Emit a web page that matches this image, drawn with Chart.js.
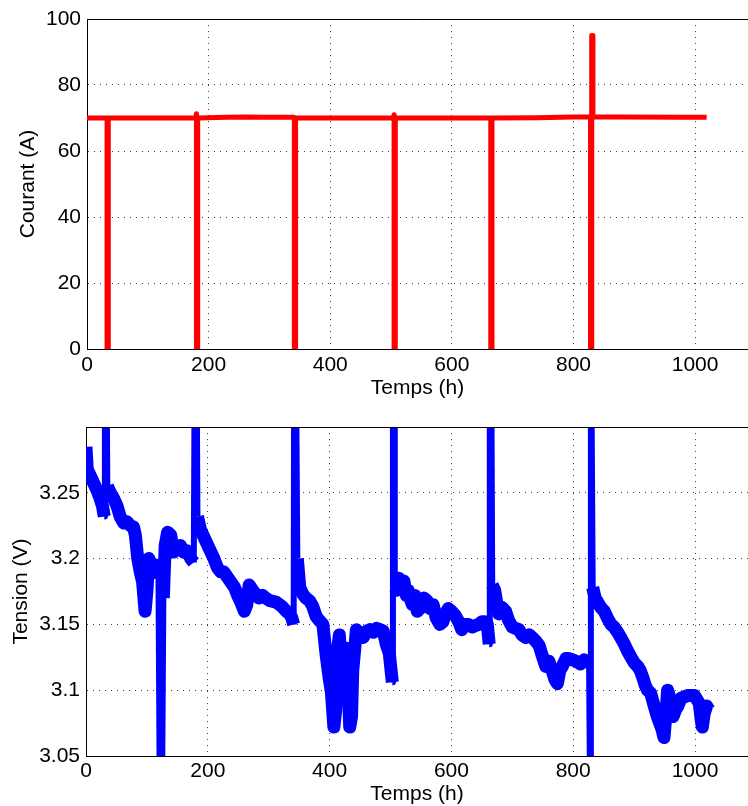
<!DOCTYPE html>
<html>
<head>
<meta charset="utf-8">
<script src="https://cdn.jsdelivr.net/npm/chart.js@4.4.0/dist/chart.umd.min.js"></script>
<style>
  body { margin: 0; background: #fff; }
  canvas { display: block; }
</style>
</head>
<body>
<canvas id="courantChart" width="748" height="400"></canvas>
<canvas id="tensionChart" width="748" height="406"></canvas>
<script>
// Courant (A) vs Temps (h)
const courantTime = [0, 33, 33, 35, 35, 179, 180, 180, 182, 182, 230, 260, 290, 320, 340, 341, 341, 343, 343,
  504, 505, 505, 507, 507, 664, 664, 666, 666, 740, 800, 828, 828, 830, 830, 832, 832, 880, 975, 1019];
const courantValue = [70, 70, 0, 0, 70, 70, 71.3, 0, 0, 70, 70.2, 70.3, 70.2, 70.2, 70.2, 70, 0, 0, 70,
  70, 71, 0, 0, 70, 70, 0, 0, 70, 70.1, 70.3, 70.3, 0, 0, 95, 95, 70.3, 70.3, 70.2, 70.2];

// Tension (V) vs Temps (h)
const tensionTime = [0, 2, 8, 12, 18, 23, 27, 30, 31, 33, 35, 40, 45, 51, 56, 62, 67, 73, 78, 81, 85, 89, 93, 97,
  100, 103, 107, 111, 115, 119, 121, 125, 127, 130, 134, 139, 144, 150, 155, 160, 166, 172, 177, 179, 181, 183,
  188, 194, 200, 205, 210, 216, 221, 226, 232, 238, 244, 249, 255, 260, 264, 268, 275, 284, 290, 295, 302, 312,
  318, 323, 329, 334, 338, 341, 342, 344, 347, 351, 356, 361, 367, 372, 378, 383, 389, 394, 399, 403, 407, 410,
  413, 416, 419, 421, 424, 427, 430, 433, 436, 438, 441, 444, 450, 455, 461, 466, 472, 477, 483, 488, 493, 498,
  503, 504, 506, 507, 510, 514, 518, 522, 526, 529, 532, 536, 540, 544, 550, 555, 560, 565, 570, 575, 581, 586,
  590, 595, 600, 606, 612, 617, 622, 628, 634, 639, 645, 650, 655, 659, 662, 663, 665, 667, 671, 675, 678, 683,
  689, 694, 700, 705, 711, 716, 722, 728, 733, 739, 744, 750, 755, 760, 766, 770, 774, 778, 782, 788, 793, 799,
  805, 812, 818, 826, 828, 829, 832, 836, 840, 845, 851, 856, 862, 867, 873, 878, 884, 889, 895, 900, 906, 910,
  914, 918, 922, 927, 933, 938, 942, 946, 949, 952, 955, 958, 961, 964, 968, 972, 977, 983, 988, 994, 999, 1003,
  1007, 1010, 1012, 1015, 1019, 1023];
const tensionValue = [3.285, 3.268, 3.262, 3.258, 3.252, 3.246, 3.240, 3.232, 3.4, 3.4, 3.255, 3.250, 3.246, 3.240,
  3.232, 3.227, 3.228, 3.225, 3.224, 3.218, 3.200, 3.190, 3.182, 3.160, 3.175, 3.200, 3.196, 3.190, 3.195, 3.185,
  3.03, 3.03, 3.17, 3.210, 3.220, 3.218, 3.205, 3.208, 3.210, 3.205, 3.206, 3.200, 3.197, 3.4, 3.4, 3.232,
  3.222, 3.216, 3.210, 3.205, 3.200, 3.193, 3.190, 3.190, 3.186, 3.182, 3.178, 3.172, 3.166, 3.160, 3.165, 3.180,
  3.175, 3.170, 3.172, 3.170, 3.168, 3.167, 3.165, 3.163, 3.160, 3.158, 3.155, 3.150, 3.4, 3.4, 3.200, 3.178,
  3.173, 3.170, 3.168, 3.164, 3.156, 3.153, 3.150, 3.128, 3.110, 3.098, 3.072, 3.085, 3.130, 3.142, 3.115, 3.102,
  3.120, 3.132, 3.110, 3.072, 3.080, 3.115, 3.130, 3.146, 3.142, 3.140, 3.145, 3.146, 3.144, 3.147, 3.146, 3.145,
  3.135, 3.128, 3.106, 3.4, 3.4, 3.178, 3.176, 3.185, 3.182, 3.183, 3.172, 3.176, 3.170, 3.165, 3.172, 3.160,
  3.163, 3.170, 3.168, 3.162, 3.165, 3.155, 3.150, 3.152, 3.158, 3.162, 3.160, 3.157, 3.152, 3.146, 3.150, 3.150,
  3.148, 3.149, 3.150, 3.152, 3.152, 3.150, 3.135, 3.4, 3.4, 3.180, 3.176, 3.165, 3.158, 3.163, 3.160, 3.153,
  3.148, 3.147, 3.146, 3.142, 3.140, 3.142, 3.140, 3.137, 3.134, 3.125, 3.118, 3.122, 3.114, 3.108, 3.105, 3.115,
  3.118, 3.124, 3.124, 3.123, 3.122, 3.120, 3.123, 3.121, 3.0, 3.4, 3.178, 3.170, 3.167, 3.163, 3.160, 3.155,
  3.150, 3.148, 3.144, 3.140, 3.135, 3.130, 3.125, 3.121, 3.118, 3.115, 3.110, 3.104, 3.100, 3.098, 3.088, 3.080,
  3.075, 3.070, 3.064, 3.080, 3.100, 3.095, 3.083, 3.080, 3.085, 3.088, 3.094, 3.095, 3.096, 3.096, 3.096, 3.093,
  3.090, 3.078, 3.072, 3.082, 3.088, 3.085];

const xTicks = [0, 200, 400, 600, 800, 1000];
const courantTicks = [0, 20, 40, 60, 80, 100];
const tensionTicks = [3.05, 3.1, 3.15, 3.2, 3.25];

const font = { family: '"Liberation Sans", Arial, Helvetica, sans-serif', size: 21, lineHeight: 1 };
const gridColor = 'rgba(0,0,0,0.75)';

// top border of the axes box (matlab style)
const topBorder = {
  id: 'topBorder',
  afterDraw(chart) {
    const { ctx, chartArea } = chart;
    ctx.save();
    ctx.strokeStyle = '#000';
    ctx.lineWidth = 1;
    ctx.beginPath();
    ctx.moveTo(chartArea.left, Math.round(chartArea.top) + 0.5);
    ctx.lineTo(chartArea.right, Math.round(chartArea.top) + 0.5);
    ctx.stroke();
    ctx.restore();
  }
};

const toPoints = (xs, ys) => xs.map((x, i) => ({ x: x, y: ys[i] }));

const makeOptions = (cfg) => ({
  responsive: false,
  animation: false,
  devicePixelRatio: 1,
  layout: { padding: { top: cfg.padTop, right: 0, left: 0, bottom: 0 } },
  plugins: { legend: { display: false }, tooltip: { enabled: false } },
  elements: { point: { radius: 0 } },
  scales: {
    x: {
      type: 'linear',
      min: 0,
      max: 1087,
      afterBuildTicks: (scale) => { scale.ticks = xTicks.map(v => ({ value: v })); },
      afterFit: (scale) => { scale.height = cfg.xHeight; },
      ticks: { font: font, color: '#000', padding: cfg.xPad, maxRotation: 0, callback: (v) => String(v) },
      grid: { color: gridColor, drawTicks: false },
      border: { color: '#000', width: 1, dash: [1, 5] },
      title: { display: true, text: 'Temps (h)', font: font, color: '#000', padding: { top: 0, bottom: 1 } }
    },
    y: {
      min: cfg.yMin,
      max: cfg.yMax,
      afterBuildTicks: (scale) => { scale.ticks = cfg.yTicks.map(v => ({ value: v })); },
      afterFit: (scale) => { scale.width = cfg.yWidth; },
      ticks: { font: font, color: '#000', padding: cfg.yPad, callback: (v) => String(+v.toFixed(2)) },
      grid: { color: gridColor, drawTicks: false },
      border: { color: '#000', width: 1, dash: [1, 5] },
      title: { display: true, text: cfg.yTitle, font: font, color: '#000', padding: { top: cfg.yTitlePad, bottom: 0 } }
    }
  }
});

new Chart(document.getElementById('courantChart'), {
  type: 'line',
  data: {
    datasets: [{
      data: toPoints(courantTime, courantValue),
      borderColor: '#ff0000',
      borderWidth: 5,
      borderJoinStyle: 'round',
      tension: 0,
      clip: 0
    }]
  },
  options: makeOptions({
    padTop: 19, xHeight: 51, xPad: 6, yWidth: 87, yPad: 6, yTitlePad: 18,
    yMin: 0, yMax: 100, yTicks: courantTicks, yTitle: 'Courant (A)'
  }),
  plugins: [topBorder]
});

new Chart(document.getElementById('tensionChart'), {
  type: 'line',
  data: {
    datasets: [{
      data: toPoints(tensionTime, tensionValue),
      borderColor: '#0000ff',
      borderWidth: 13,
      borderJoinStyle: 'round',
      tension: 0,
      clip: 0,
      segment: {
        // the sharp spikes are drawn thinner than the noisy band
        borderWidth: (ctx) => Math.abs(ctx.p1.parsed.y - ctx.p0.parsed.y) > 0.05 ? 6 : undefined
      }
    }]
  },
  options: makeOptions({
    padTop: 27, xHeight: 50, xPad: 5, yWidth: 86, yPad: 6, yTitlePad: 11,
    yMin: 3.05, yMax: 3.3, yTicks: tensionTicks, yTitle: 'Tension (V)'
  }),
  plugins: [topBorder]
});
</script>
</body>
</html>
